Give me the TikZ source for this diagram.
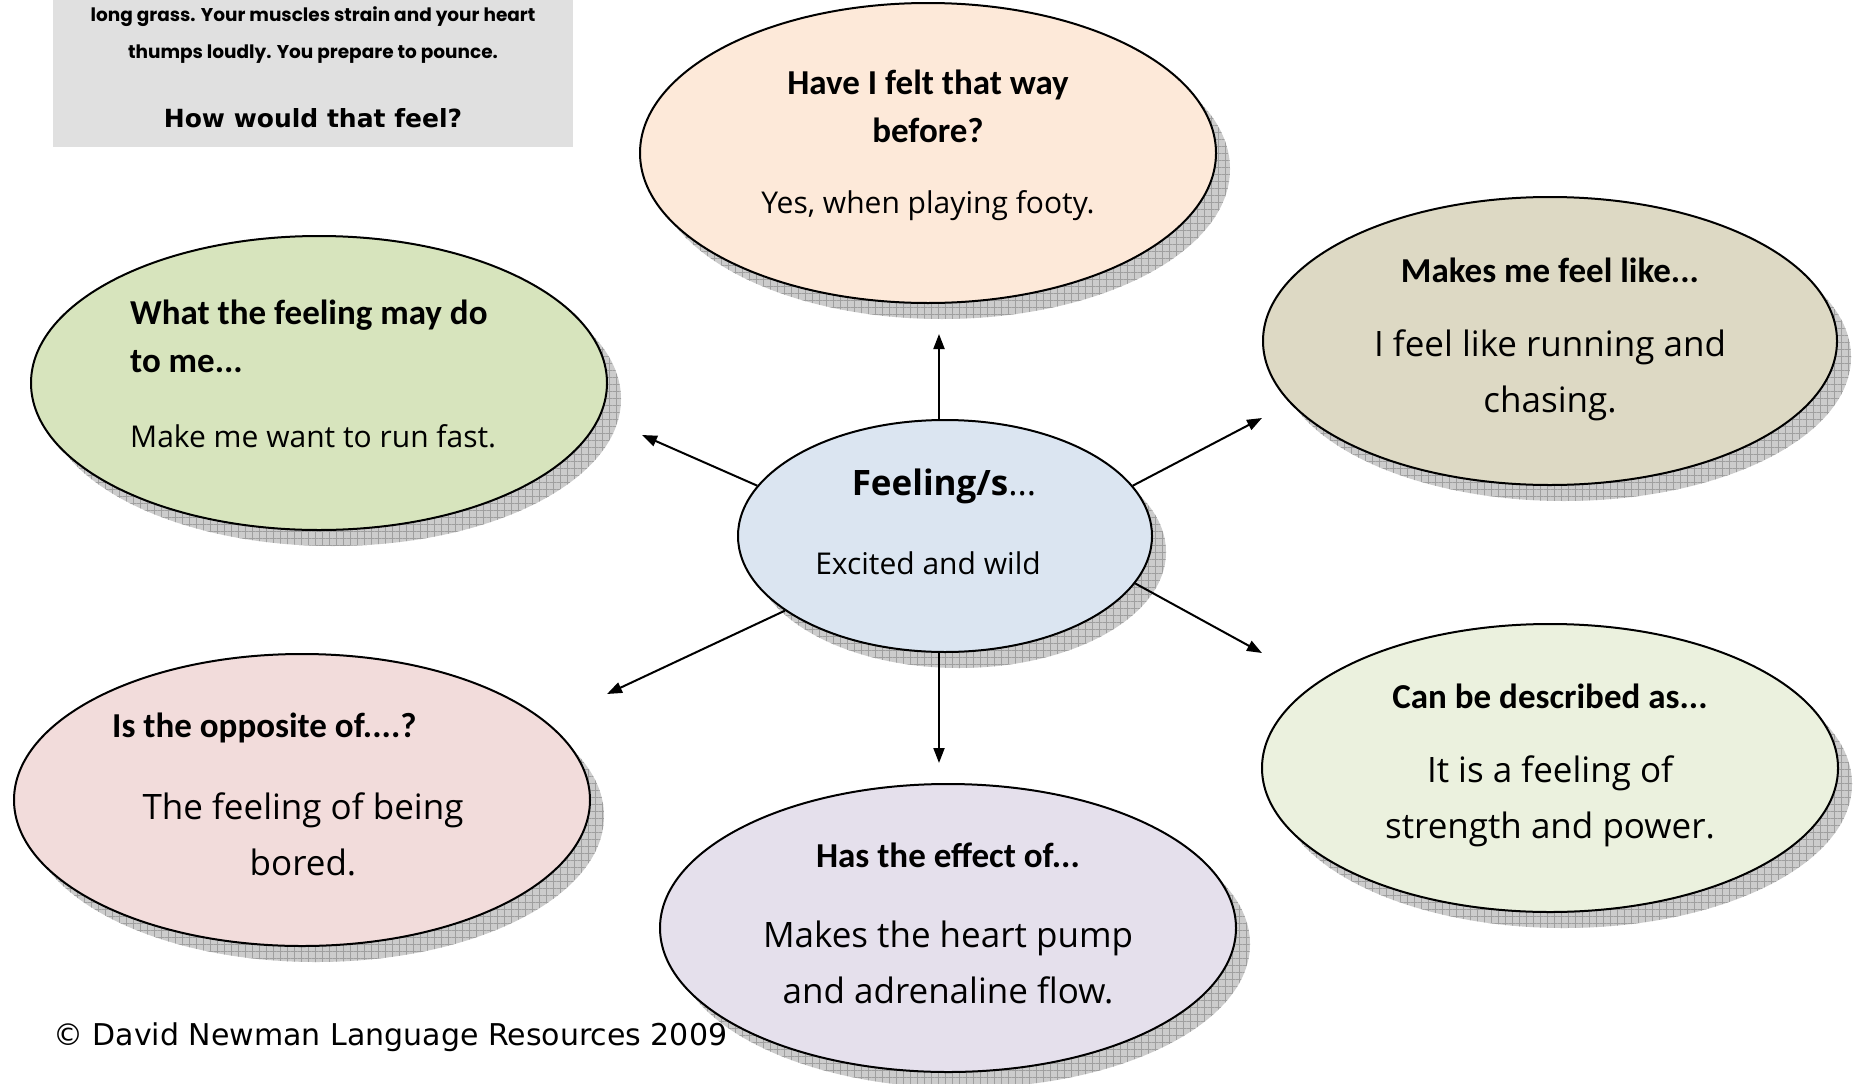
\documentclass[tikz,border=0pt]{standalone}
\usepackage{fontspec}
\usetikzlibrary{shapes.geometric,arrows.meta,patterns.meta}
\newfontfamily\hdf{Carlito}
\newfontfamily\csf{Open Sans}
\newfontfamily\cgf{Poppins}
\newfontfamily\vdf{DejaVu Sans}
\definecolor{cpeach}{HTML}{FDE9D9}
\definecolor{cgreen}{HTML}{D7E4BD}
\definecolor{ctan}{HTML}{DDD9C4}
\definecolor{cblue}{HTML}{DBE5F1}
\definecolor{cpink}{HTML}{F2DCDB}
\definecolor{clav}{HTML}{E5E0EC}
\definecolor{clgreen}{HTML}{EBF1DE}
\definecolor{cbox}{HTML}{E0E0E0}
\tikzset{
  bubble/.style={ellipse, draw=black, line width=2pt, inner sep=0pt},
  shadowfill/.style={fill=gray!40},
  shadowgrid/.style={pattern={Hatch[angle=0,distance=7pt,line width=0.7pt]}, pattern color=gray!75},
  headtxt/.style={font=\hdf\bfseries\fontsize{35}{48}\selectfont, align=center, inner sep=0pt},
  bodytxt/.style={font=\csf\fontsize{35}{56}\selectfont, align=center, inner sep=0pt},
  smalltxt/.style={font=\csf\fontsize{30}{40}\selectfont, align=center, inner sep=0pt},
  arr/.style={line width=2pt, -{Triangle[length=15pt,width=11pt]}},
}
\newcommand\mybubble[6]{%
  \fill[shadowfill] (#2+14,#3+16) ellipse [x radius=#4pt, y radius=#5pt];
  \fill[shadowgrid] (#2+14,#3+16) ellipse [x radius=#4pt, y radius=#5pt];
  \node[bubble, fill=#6, minimum width=2*#4pt, minimum height=2*#5pt] (#1) at (#2,#3) {};
}
\begin{document}
\begin{tikzpicture}[x=1pt,y=-1pt]
\useasboundingbox[fill=white] (0,0) rectangle (1855,1084);

% grey story box
\node[fill=cbox, inner sep=0pt, minimum width=520pt, minimum height=147pt, anchor=north west] (box) at (53,0) {};
\node[font=\cgf\bfseries\fontsize{18.5}{37}\selectfont, align=center, inner sep=0pt] (story) at (313,35)
  {long grass. Your muscles strain and your heart\\thumps loudly. You prepare to pounce.};
\node[font=\vdf\bfseries\fontsize{25}{30}\selectfont, inner sep=0pt] (ask) at (313,118) {How would that feel?};

% bubbles
\mybubble{top}{928}{153}{288}{150}{cpeach}
\mybubble{lt}{319}{383}{288}{147}{cgreen}
\mybubble{rt}{1550}{341}{287}{144}{ctan}
\mybubble{lb}{302}{800}{288}{146}{cpink}
\mybubble{bot}{948}{928}{288}{144}{clav}
\mybubble{rb}{1550}{768}{288}{144}{clgreen}
\mybubble{c}{945}{536}{207}{116}{cblue}

% texts
\node[headtxt] (topH) at (928,106) {Have I felt that way\\before?};
\node[smalltxt] (topB) at (928,206) {Yes, when playing footy.};

\node[headtxt, align=left, anchor=west] (ltH) at (130,336) {What the feeling may do\\to me...};
\node[smalltxt, anchor=west] (ltB) at (130,436) {Make me want to run fast.};

\node[headtxt] (rtH) at (1550,270) {Makes me feel like...};
\node[bodytxt] (rtB) at (1550,375) {I feel like running and\\chasing.};

\node[font=\csf\fontsize{35}{40}\selectfont, inner sep=0pt] (cH) at (944,486) {\textbf{Feeling/s}...};
\node[font=\csf\fontsize{30}{36}\selectfont, inner sep=0pt] (cB) at (928,563) {Excited and wild};

\node[headtxt, anchor=west] (lbH) at (112,728) {Is the opposite of....?};
\node[bodytxt] (lbB) at (303,834) {The feeling of being\\bored.};

\node[headtxt] (botH) at (948,855) {Has the effect of...};
\node[bodytxt] (botB) at (948,962) {Makes the heart pump\\and adrenaline flow.};

\node[headtxt] (rbH) at (1550,696) {Can be described as...};
\node[bodytxt] (rbB) at (1550,801) {It is a feeling of\\strength and power.};

\node[font=\vdf\fontsize{30}{34}\selectfont, anchor=west, inner sep=0pt] (copy) at (53,1037) {© David Newman Language Resources 2009};

% arrows
\coordinate (tup) at (939,334);
\coordinate (tdn) at (939,763);
\coordinate (tul) at (642,435);
\coordinate (tur) at (1262,418);
\coordinate (tll) at (607,694);
\coordinate (tlr) at (1262,653);
\draw[arr] (c.north -| tup) -- (tup);
\draw[arr] (c.south -| tdn) -- (tdn);
\draw[arr] (c.165) -- (tul);
\draw[arr] (c.15) -- (tur);
\draw[arr] (c.205) -- (tll);
\draw[arr] (c.346) -- (tlr);
\end{tikzpicture}
\end{document}
